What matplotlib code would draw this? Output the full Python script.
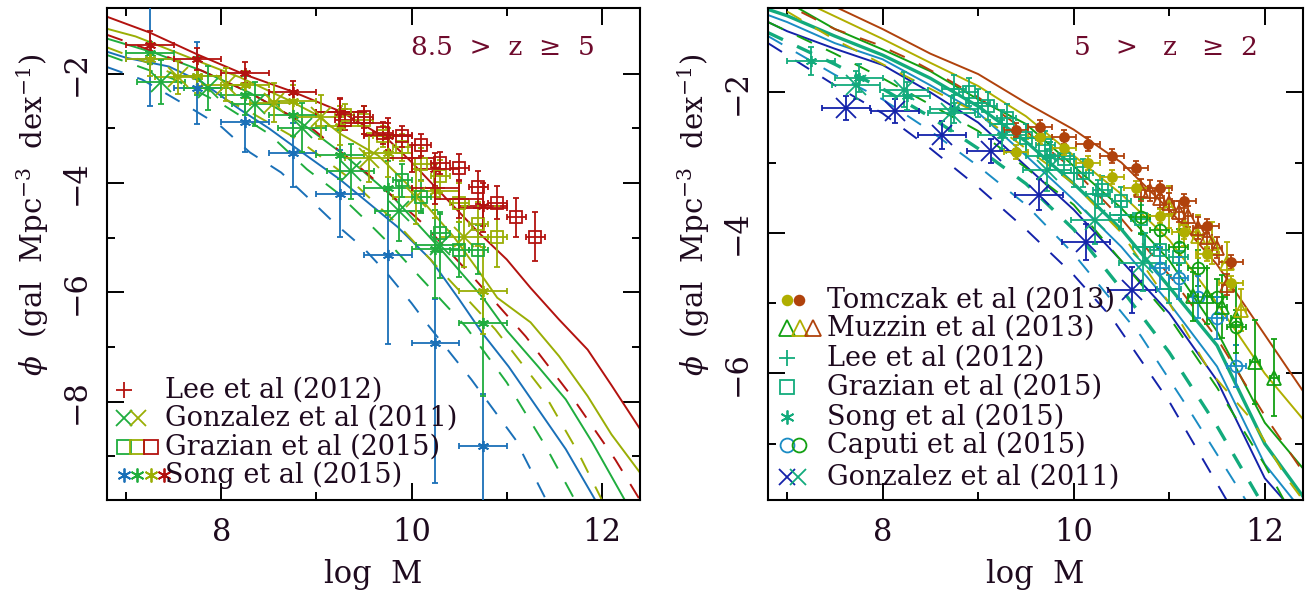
import numpy as np
import matplotlib
matplotlib.use("Agg")
import matplotlib.pyplot as plt

plt.rcParams["font.family"] = ["DejaVu Serif"]
plt.rcParams["mathtext.fontset"] = "dejavuserif"

TXT = "#1e0a1e"
TITLE = "#6e0a2c"

# colours, high redshift panel
RED = "#b3120f"
OLV = "#9aae05"
GRN = "#1fad3e"
BLU = "#1a70b8"
# colours, low redshift panel
BRN = "#b0420c"
YEL = "#b0ae00"
GR2 = "#12a012"
TEA = "#12ab7c"
TBL = "#1a8cc4"
DBL = "#1422aa"

# ---- left panel model curves (solid / dashed) ----
L_red_x = [6.8, 7.25, 7.75, 8.25, 8.75, 9.25, 9.75, 10.0, 10.4, 10.7, 11.0, 11.25, 11.55, 11.85, 12.1, 12.4]
L_red_y = [-0.96, -1.25, -1.65, -2.02, -2.33, -2.69, -3.2, -3.62, -4.35, -4.9, -5.4, -5.92, -6.5, -7.05, -7.7, -8.5]
L_olv_x = [6.8, 7.1, 7.45, 7.8, 8.2, 8.7, 9.0, 9.25, 9.65, 10.0, 10.45, 10.7, 10.9, 11.25, 11.55, 11.85, 12.1, 12.4]
L_olv_y = [-1.18, -1.32, -1.56, -1.8, -2.07, -2.48, -2.75, -3.1, -3.5, -4.1, -5.0, -5.6, -6.1, -6.55, -7.17, -7.9, -8.6, -9.3]
L_grn_x = [6.8, 7.3, 7.8, 8.3, 8.8, 9.3, 9.8, 10.3, 10.75, 11.0, 11.33, 11.62, 11.9, 12.24]
L_grn_y = [-1.36, -1.62, -1.95, -2.35, -2.85, -3.5, -4.25, -5.2, -6.1, -6.7, -7.36, -7.96, -8.75, -9.8]
L_blu_x = [6.8, 7.0, 7.45, 7.8, 8.2, 8.5, 8.8, 9.25, 9.85, 10.2, 10.5, 10.74, 11.02, 11.33, 11.62, 11.93]
L_blu_y = [-1.6, -1.71, -1.87, -2.16, -2.66, -3.0, -3.38, -3.94, -4.8, -5.4, -6.13, -6.74, -7.36, -8.14, -8.87, -9.8]

Ld_red_x = [6.8, 7.3, 7.8, 8.3, 8.93, 9.55, 10.13, 10.67, 11.2, 11.68, 12.14, 12.4]
Ld_red_y = [-1.29, -1.6, -1.95, -2.35, -2.97, -3.85, -4.76, -5.77, -6.81, -7.9, -9.06, -9.8]
Ld_olv_x = [6.8, 7.3, 7.8, 8.3, 8.8, 9.3, 9.85, 10.4, 10.88, 11.37, 11.75, 12.0]
Ld_olv_y = [-1.52, -1.85, -2.25, -2.7, -3.2, -3.85, -4.75, -5.78, -6.68, -7.78, -8.93, -9.8]
Ld_grn_x = [6.8, 7.5, 8.0, 8.5, 8.9, 9.2, 9.5, 9.8, 10.05, 10.57, 11.0, 11.41, 11.7]
Ld_grn_y = [-1.66, -2.1, -2.55, -3.1, -3.75, -4.15, -4.65, -5.17, -5.65, -6.63, -7.65, -8.82, -9.75]
Ld_blu_x = [6.8, 7.17, 7.67, 8.0, 8.3, 8.63, 8.9, 9.2, 9.5, 9.75, 10.0, 10.15, 10.63, 11.09, 11.4]
Ld_blu_y = [-1.88, -2.11, -2.62, -2.97, -3.44, -3.81, -4.25, -4.75, -5.2, -5.67, -6.2, -6.55, -7.6, -8.69, -9.75]

# ---- left panel observations ----
song_x = [7.25, 7.75, 8.25, 8.75, 9.25, 9.75, 10.25, 10.75]
song_red_y = [-1.47, -1.73, -1.98, -2.33, -2.7, -3.15, -3.75, -4.43]
song_red_e = [0.25, 0.2, 0.2, 0.2, 0.25, 0.25, 0.3, 0.35]
song_olv_y = [-1.74, -2.05, -2.2, -2.5, -2.95, -3.45, -4.15, -5.97]
song_olv_e = [0.3, 0.3, 0.25, 0.3, 0.35, 0.45, 0.5, 0.8]
song_grn_y = [-1.62, -2.05, -2.4, -2.75, -3.48, -4.09, -5.2, -6.57]
song_grn_lo = [0.2, 0.35, 0.35, 0.4, 0.45, 0.5, 0.9, 1.33]
song_grn_hi = [0.2, 0.35, 0.35, 0.4, 0.45, 0.5, 0.7, 0.44]
song_blu_y = [-1.74, -2.26, -2.88, -3.45, -4.21, -5.31, -6.92, -8.82]
song_blu_lo = [0.86, 0.67, 0.56, 0.62, 0.77, 1.64, 2.56, 1.2]
song_blu_hi = [1.1, 0.83, 0.46, 0.55, 0.82, 1.19, 0.8, 0.96]

lee_x = [9.25, 9.5, 9.75, 10.0, 10.25, 10.5, 10.75]
lee_y = [-2.71, -2.9, -3.12, -3.55, -4.09, -4.3, -4.45]
lee_e = [0.25, 0.2, 0.3, 0.25, 0.3, 0.35, 0.45]

gon_grn_x = [7.37, 7.86, 8.36, 8.85, 9.36, 9.87, 10.3]
gon_grn_y = [-2.16, -2.26, -2.55, -2.99, -3.79, -4.52, -5.13]
gon_grn_e = [0.4, 0.4, 0.4, 0.45, 0.5, 0.55, 0.6]
gon_olv_x = [7.55, 8.05, 8.55, 9.05, 9.55, 10.05, 10.55]
gon_olv_y = [-2.07, -2.2, -2.53, -2.8, -3.54, -4.25, -4.98]
gon_olv_e = [0.3, 0.3, 0.35, 0.4, 0.45, 0.5, 0.55]

gra_red_x = [9.3, 9.5, 9.7, 9.9, 10.1, 10.3, 10.5, 10.7, 10.9, 11.1, 11.3]
gra_red_y = [-2.84, -2.8, -3.08, -3.15, -3.3, -3.63, -3.72, -4.08, -4.36, -4.63, -4.98]
gra_red_e = [0.2, 0.2, 0.2, 0.2, 0.2, 0.2, 0.25, 0.3, 0.3, 0.35, 0.45]
gra_olv_x = [9.3, 9.5, 9.7, 9.9, 10.1, 10.3, 10.5, 10.7, 10.9]
gra_olv_y = [-2.75, -2.85, -3.15, -3.35, -3.66, -3.88, -4.36, -4.75, -4.98]
gra_olv_e = [0.2, 0.25, 0.2, 0.25, 0.3, 0.3, 0.35, 0.4, 0.55]
gra_grn_x = [9.9, 10.1, 10.3, 10.5, 10.7]
gra_grn_y = [-3.95, -4.25, -4.91, -5.22, -5.22]
gra_grn_e = [0.3, 0.3, 0.35, 0.5, 0.45]

# ---- right panel model curves ----
R_brn_x = [7.5, 8.0, 8.5, 9.0, 9.5, 10.0, 10.5, 11.0, 11.5, 12.0, 12.4]
R_brn_y = [-0.78, -1.1, -1.45, -1.74, -2.15, -2.53, -3.0, -3.67, -4.45, -5.45, -6.25]
R_yel_x = [7.3, 8.0, 8.5, 9.0, 9.5, 10.0, 10.5, 11.0, 11.5, 12.0, 12.4]
R_yel_y = [-0.79, -1.24, -1.58, -1.91, -2.34, -2.9, -3.45, -4.1, -5.0, -6.0, -6.65]
R_gr2_x = [7.1, 7.5, 8.0, 8.5, 9.0, 9.5, 10.0, 10.5, 11.0, 11.5, 12.0, 12.4]
R_gr2_y = [-0.79, -1.1, -1.39, -1.7, -2.1, -2.45, -3.05, -3.65, -4.39, -5.4, -6.7, -7.35]
R_tea_x = [6.8, 7.0, 7.5, 8.0, 8.5, 9.0, 9.5, 10.0, 10.5, 11.0, 11.5, 12.0, 12.4]
R_tea_y = [-0.82, -0.91, -1.2, -1.47, -1.8, -2.2, -2.7, -3.3, -3.95, -4.77, -5.6, -7.0, -7.75]
R_tbl_x = [6.8, 7.0, 7.5, 8.0, 8.5, 9.0, 9.5, 10.0, 10.5, 11.0, 11.5, 12.0, 12.3]
R_tbl_y = [-0.9, -1.0, -1.3, -1.53, -1.9, -2.29, -2.9, -3.53, -4.2, -5.0, -5.9, -7.29, -7.8]
R_dbl_x = [6.8, 7.0, 7.5, 8.0, 8.5, 9.0, 9.5, 10.0, 10.5, 11.0, 11.5, 12.0, 12.2]
R_dbl_y = [-1.0, -1.13, -1.38, -1.61, -2.0, -2.43, -3.05, -3.67, -4.4, -5.14, -6.1, -7.49, -7.8]

Rd_brn_x = [7.15, 7.5, 7.93, 8.33, 8.67, 9.0, 9.5, 10.0, 10.5, 11.0, 11.5, 12.0, 12.23, 12.4]
Rd_brn_y = [-0.86, -1.1, -1.31, -1.56, -1.81, -2.07, -2.55, -3.1, -3.8, -4.6, -5.5, -6.6, -7.06, -7.4]
Rd_yel_x = [7.0, 7.5, 8.0, 9.0, 10.0, 10.5, 11.0, 11.42, 11.87, 12.23, 12.4]
Rd_yel_y = [-0.85, -1.25, -1.6, -2.3, -3.3, -4.0, -5.0, -5.96, -6.67, -7.49, -7.8]
Rd_gr2_x = [6.8, 7.5, 8.0, 9.0, 10.0, 11.0, 11.5, 12.0, 12.2]
Rd_gr2_y = [-1.0, -1.45, -1.8, -2.55, -3.6, -5.2, -6.2, -7.3, -7.8]
Rd_tea_x = [6.8, 7.5, 8.0, 8.5, 9.0, 9.5, 10.0, 10.5, 11.0, 11.5, 11.95]
Rd_tea_y = [-1.15, -1.6, -1.95, -2.35, -2.8, -3.3, -3.95, -4.8, -5.7, -6.75, -7.8]
Rd_tbl_x = [6.8, 7.5, 8.0, 8.5, 9.0, 9.5, 10.0, 10.7, 11.2, 11.8]
Rd_tbl_y = [-1.2, -1.75, -2.1, -2.55, -3.05, -3.6, -4.3, -5.46, -6.5, -7.8]
Rd_dbl_x = [6.8, 7.5, 8.0, 8.5, 9.0, 9.5, 10.0, 10.4, 11.0, 11.6]
Rd_dbl_y = [-1.3, -1.9, -2.3, -2.8, -3.35, -3.95, -4.6, -5.21, -6.4, -7.8]

# ---- right panel observations ----
tom_x = [9.4, 9.65, 9.9, 10.15, 10.4, 10.65, 10.9, 11.15, 11.4, 11.65]
tom_brn_y = [-2.53, -2.5, -2.63, -2.73, -2.91, -3.07, -3.36, -3.54, -3.9, -4.41]
tom_yel_y = [-2.85, -2.63, -2.79, -3.0, -3.21, -3.36, -3.76, -3.99, -4.3, -4.71]

muz_brn_x = [10.7, 10.8, 10.9, 11.0, 11.1, 11.2, 11.3, 11.4, 11.5, 11.6]
muz_brn_y = [-3.39, -3.4, -3.5, -3.58, -3.7, -3.76, -3.93, -4.06, -4.21, -4.74]
muz_yel_x = [11.0, 11.15, 11.3, 11.45, 11.6, 11.75]
muz_yel_y = [-3.63, -3.89, -4.05, -4.14, -4.43, -5.1]
muz_gr2_x = [11.25, 11.4, 11.55, 11.7, 11.9, 12.1]
muz_gr2_y = [-4.9, -4.9, -5.05, -5.21, -5.84, -6.06]
muz_gr2_e = [0.35, 0.4, 0.45, 0.5, 0.6, 0.55]

rlee_x = [8.75, 9.0, 9.25, 9.5, 9.75, 10.0, 10.25, 10.5, 10.75, 11.0]
rlee_y = [-1.95, -2.15, -2.45, -2.65, -2.9, -3.15, -3.45, -3.75, -4.2, -4.8]

rgra_x = [8.9, 9.1, 9.3, 9.5, 9.7, 9.9, 10.1, 10.3, 10.5, 10.7, 10.9, 11.1]
rgra_y = [-1.99, -2.2, -2.36, -2.65, -2.75, -2.95, -3.15, -3.39, -3.55, -3.8, -4.24, -4.34]

rsong_x = [7.25, 7.75, 8.25, 8.75, 9.25, 9.75]
rsong_y = [-1.56, -1.79, -2.05, -2.24, -2.6, -2.9]

cap_tbl_x = [10.9, 11.1, 11.3, 11.5, 11.7]
cap_tbl_y = [-4.5, -4.64, -4.91, -5.21, -5.89]
cap_gr2_x = [10.7, 10.9, 11.1, 11.3, 11.5, 11.7]
cap_gr2_y = [-3.77, -3.96, -4.2, -4.5, -4.91, -5.34]

rgon_dbl_x = [7.62, 8.13, 8.62, 9.13, 9.64, 10.13, 10.61]
rgon_dbl_y = [-2.22, -2.27, -2.61, -2.84, -3.46, -4.13, -4.81]
rgon_dbl_e = [0.17, 0.17, 0.2, 0.17, 0.22, 0.25, 0.33]
rgon_tea_x = [7.72, 8.22, 8.72, 9.72, 10.22, 10.72]
rgon_tea_y = [-1.89, -1.96, -2.3, -3.1, -3.81, -4.43]
rgon_tea_e = [0.2, 0.25, 0.25, 0.3, 0.35, 0.4]

ASTER = (6, 2, 0)
DASH = (0, (8.5, 8))


def bars(ax, x, y, xe, ye, col, lw=1.3, z=3):
    ax.errorbar(x, y, xerr=xe, yerr=ye, fmt="none", ecolor=col,
                elinewidth=lw, capsize=2.5, capthick=lw, zorder=z)


def pts(ax, x, y, col, marker, ms, filled=False, mew=1.3, z=4):
    ax.plot(x, y, ls="none", marker=marker, ms=ms, mec=col,
            mfc=col if filled else "none", mew=mew, zorder=z)


fig = plt.figure(figsize=(13.13, 5.91), dpi=100)
ax1 = fig.add_axes([107 / 1313, 91 / 591, 533 / 1313, 492 / 591])
ax2 = fig.add_axes([768 / 1313, 91 / 591, 535 / 1313, 492 / 591])

# ----- left panel -----
for xs, ys, c in [(L_red_x, L_red_y, RED), (L_olv_x, L_olv_y, OLV),
                  (L_grn_x, L_grn_y, GRN), (L_blu_x, L_blu_y, BLU)]:
    ax1.plot(xs, ys, color=c, lw=1.4, zorder=2)
for xs, ys, c in [(Ld_red_x, Ld_red_y, RED), (Ld_olv_x, Ld_olv_y, OLV),
                  (Ld_grn_x, Ld_grn_y, GRN), (Ld_blu_x, Ld_blu_y, BLU)]:
    ax1.plot(xs, ys, color=c, lw=1.4, ls=DASH, zorder=2)

bars(ax1, song_x, song_blu_y, 0.25, [song_blu_lo, song_blu_hi], BLU)
pts(ax1, song_x, song_blu_y, BLU, ASTER, 8)
bars(ax1, song_x, song_grn_y, 0.25, [song_grn_lo, song_grn_hi], GRN)
pts(ax1, song_x, song_grn_y, GRN, ASTER, 8)
bars(ax1, song_x, song_olv_y, 0.25, song_olv_e, OLV)
pts(ax1, song_x, song_olv_y, OLV, ASTER, 8)
bars(ax1, song_x, song_red_y, 0.25, song_red_e, RED)
pts(ax1, song_x, song_red_y, RED, ASTER, 8)

bars(ax1, gon_grn_x, gon_grn_y, 0.25, gon_grn_e, GRN)
pts(ax1, gon_grn_x, gon_grn_y, GRN, "x", 15)
bars(ax1, gon_olv_x, gon_olv_y, 0.25, gon_olv_e, OLV)
pts(ax1, gon_olv_x, gon_olv_y, OLV, "x", 15)

bars(ax1, gra_grn_x, gra_grn_y, 0.1, gra_grn_e, GRN)
pts(ax1, gra_grn_x, gra_grn_y, GRN, "s", 8.5)
bars(ax1, gra_olv_x, gra_olv_y, 0.1, gra_olv_e, OLV)
pts(ax1, gra_olv_x, gra_olv_y, OLV, "s", 8.5)
bars(ax1, gra_red_x, gra_red_y, 0.1, gra_red_e, RED)
pts(ax1, gra_red_x, gra_red_y, RED, "s", 8.5)

bars(ax1, lee_x, lee_y, 0.25, lee_e, RED)
pts(ax1, lee_x, lee_y, RED, "+", 14)

# ----- right panel -----
for xs, ys, c, w in [(R_brn_x, R_brn_y, BRN, 1.4), (R_yel_x, R_yel_y, YEL, 1.4),
                     (R_gr2_x, R_gr2_y, GR2, 1.4), (R_tea_x, R_tea_y, TEA, 2.4),
                     (R_tbl_x, R_tbl_y, TBL, 1.4), (R_dbl_x, R_dbl_y, DBL, 1.4)]:
    ax2.plot(xs, ys, color=c, lw=w, zorder=2)
for xs, ys, c, w in [(Rd_brn_x, Rd_brn_y, BRN, 1.4), (Rd_yel_x, Rd_yel_y, YEL, 1.4),
                     (Rd_gr2_x, Rd_gr2_y, GR2, 1.4), (Rd_tea_x, Rd_tea_y, TEA, 2.4),
                     (Rd_tbl_x, Rd_tbl_y, TBL, 1.4), (Rd_dbl_x, Rd_dbl_y, DBL, 1.4)]:
    ax2.plot(xs, ys, color=c, lw=w, ls=(0, (8.5 * 1.4 / w, 8 * 1.4 / w)), zorder=2)

bars(ax2, rgon_dbl_x, rgon_dbl_y, 0.25, rgon_dbl_e, DBL)
pts(ax2, rgon_dbl_x, rgon_dbl_y, DBL, "x", 15)
bars(ax2, rsong_x, rsong_y, 0.25, 0.2, TEA)
pts(ax2, rsong_x, rsong_y, TEA, ASTER, 8)
bars(ax2, rgon_tea_x, rgon_tea_y, 0.25, rgon_tea_e, TEA)
pts(ax2, rgon_tea_x, rgon_tea_y, TEA, "x", 15)
bars(ax2, rgra_x, rgra_y, 0.1, 0.2, TEA)
pts(ax2, rgra_x, rgra_y, TEA, "s", 8.5)
bars(ax2, rlee_x, rlee_y, 0.125, 0.2, TEA)
pts(ax2, rlee_x, rlee_y, TEA, "+", 12)
bars(ax2, cap_gr2_x, cap_gr2_y, 0.1, 0.25, GR2)
pts(ax2, cap_gr2_x, cap_gr2_y, GR2, "o", 8.5)
bars(ax2, cap_tbl_x, cap_tbl_y, 0.1, 0.3, TBL)
pts(ax2, cap_tbl_x, cap_tbl_y, TBL, "o", 8.5)
bars(ax2, muz_gr2_x, muz_gr2_y, 0.05, muz_gr2_e, GR2)
pts(ax2, muz_gr2_x, muz_gr2_y, GR2, "^", 10)
bars(ax2, muz_yel_x, muz_yel_y, 0.05, 0.3, YEL)
pts(ax2, muz_yel_x, muz_yel_y, YEL, "^", 10)
bars(ax2, muz_brn_x, muz_brn_y, 0.05, 0.15, BRN)
pts(ax2, muz_brn_x, muz_brn_y, BRN, "^", 10)
bars(ax2, tom_x, tom_yel_y, 0.125, 0.1, YEL)
pts(ax2, tom_x, tom_yel_y, YEL, "o", 6.5, filled=True)
bars(ax2, tom_x, tom_brn_y, 0.125, 0.1, BRN)
pts(ax2, tom_x, tom_brn_y, BRN, "o", 6.5, filled=True)

# ----- axes cosmetics -----
ylabel = r"$\phi$  (gal  Mpc$^{-3}$  dex$^{-1}$)"
for ax, ylim, maj, mnr in [(ax1, (-9.8, -0.8), [-8, -6, -4, -2], [-9, -7, -5, -3]),
                           (ax2, (-7.8, -0.8), [-6, -4, -2], [-7, -5, -3])]:
    ax.set_xlim(6.8, 12.4)
    ax.set_ylim(*ylim)
    ax.set_xticks([8, 10, 12])
    ax.set_xticks([7, 9, 11], minor=True)
    ax.set_yticks(maj)
    ax.set_yticks(mnr, minor=True)
    ax.tick_params(which="both", direction="in", top=True, right=True,
                   width=1.4, labelsize=22, labelcolor=TXT)
    ax.tick_params(which="major", length=12)
    ax.tick_params(which="minor", length=6)
    ax.tick_params(axis="x", pad=12)
    ax.tick_params(axis="y", pad=11, labelrotation=90)
    for lab in ax.get_yticklabels():
        lab.set_va("center")
    for sp in ax.spines.values():
        sp.set_linewidth(1.5)
    ax.set_xlabel("log  M", fontsize=22, color=TXT, labelpad=8)
    ax.text(-0.139, 0.579, ylabel, rotation=90, ha="center", va="center",
            fontsize=21, color=TXT, transform=ax.transAxes)

ax1.text(0.916, 0.919, "8.5  >  z  ≥  5", ha="right", va="center",
         fontsize=19, color=TITLE, transform=ax1.transAxes)
ax2.text(0.916, 0.919, "5   >   z   ≥  2", ha="right", va="center",
         fontsize=19, color=TITLE, transform=ax2.transAxes)

# ----- hand-built legends -----
def key(ax, xs, y, cols, marker, ms, filled=False, mew=1.3):
    for xx, c in zip(xs, cols):
        ax.plot([xx], [y], ls="none", marker=marker, ms=ms, mec=c,
                mfc=c if filled else "none", mew=mew, transform=ax.transAxes,
                clip_on=False, zorder=6)


def keytext(ax, x, y, s):
    ax.text(x, y, s, fontsize=19.5, color=TXT, va="center", ha="left",
            transform=ax.transAxes, zorder=6)


ly = [0.2236, 0.1667, 0.1077, 0.0508]
key(ax1, [0.032], ly[0], [RED], "+", 12)
keytext(ax1, 0.109, ly[0], "Lee et al (2012)")
key(ax1, [0.032, 0.058], ly[1], [GRN, OLV], "x", 12)
keytext(ax1, 0.109, ly[1], "Gonzalez et al (2011)")
key(ax1, [0.032, 0.057, 0.082], ly[2], [GRN, OLV, RED], "s", 10)
keytext(ax1, 0.109, ly[2], "Grazian et al (2015)")
key(ax1, [0.032, 0.057, 0.082, 0.107], ly[3], [BLU, GRN, OLV, RED], ASTER, 10)
keytext(ax1, 0.109, ly[3], "Song et al (2015)")

ry = [0.4065, 0.3496, 0.2886, 0.2297, 0.1687, 0.1118, 0.0467]
key(ax2, [0.0355, 0.058], ry[0], [YEL, BRN], "o", 7, filled=True)
keytext(ax2, 0.110, ry[0], "Tomczak et al (2013)")
key(ax2, [0.0355, 0.06, 0.085], ry[1], [GR2, YEL, BRN], "^", 12)
keytext(ax2, 0.110, ry[1], "Muzzin et al (2013)")
key(ax2, [0.0355], ry[2], [TEA], "+", 12)
keytext(ax2, 0.110, ry[2], "Lee et al (2012)")
key(ax2, [0.0355], ry[3], [TEA], "s", 10)
keytext(ax2, 0.110, ry[3], "Grazian et al (2015)")
key(ax2, [0.0355], ry[4], [TEA], ASTER, 10)
keytext(ax2, 0.110, ry[4], "Song et al (2015)")
key(ax2, [0.0355, 0.058], ry[5], [TBL, GR2], "o", 10)
keytext(ax2, 0.110, ry[5], "Caputi et al (2015)")
key(ax2, [0.0355, 0.056], ry[6], [DBL, TEA], "x", 12)
keytext(ax2, 0.110, ry[6], "Gonzalez et al (2011)")

fig.savefig("out.png", dpi=100)
